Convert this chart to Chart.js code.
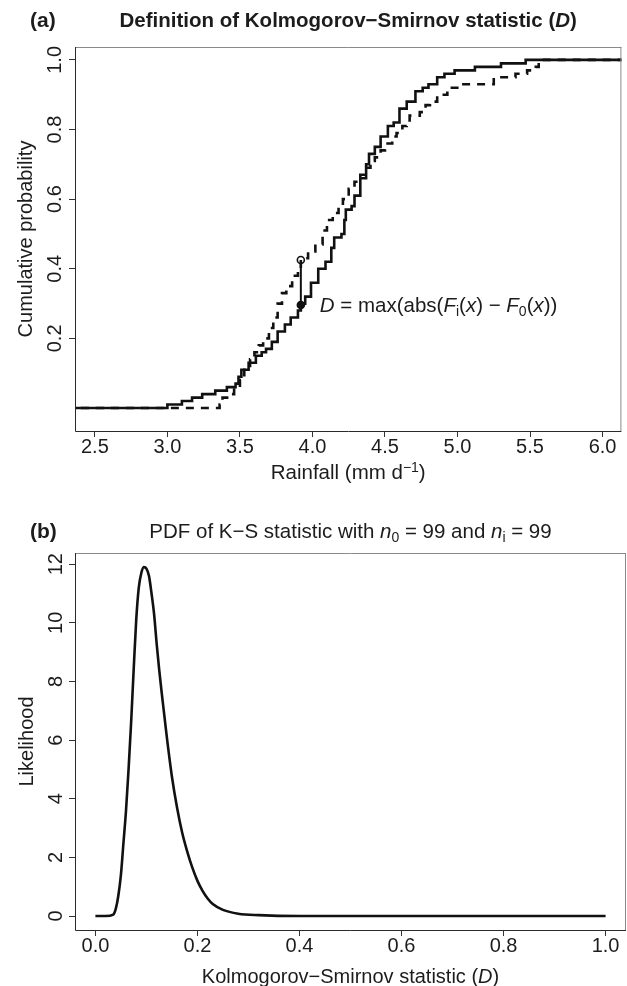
<!DOCTYPE html>
<html>
<head>
<meta charset="utf-8">
<script src="https://cdn.jsdelivr.net/npm/chart.js@4.4.0/dist/chart.umd.min.js"></script>
<style>
body { margin: 0; background: #fff; }
.panel { position: absolute; left: 0; width: 627px; height: 493px; }
</style>
</head>
<body>
<div class="panel" style="top:0"><canvas id="ecdfChart" width="627" height="493"></canvas></div>
<div class="panel" style="top:493px"><canvas id="pdfChart" width="627" height="493"></canvas></div>
<script>
// ===============================
// Data
// ===============================

// (a) empirical CDFs of rainfall (mm/d)
const solidX = [2.30, 3.00, 3.10, 3.17, 3.24, 3.33, 3.41, 3.47, 3.49, 3.51, 3.56, 3.61, 3.65, 3.68, 3.72, 3.76, 3.81, 3.85, 3.90, 3.92,
                3.95, 3.99, 4.04, 4.09, 4.13, 4.15, 4.20, 4.22, 4.23, 4.27, 4.29, 4.33, 4.37, 4.39, 4.43, 4.47, 4.52, 4.56, 4.60, 4.65,
                4.71, 4.76, 4.80, 4.86, 4.91, 4.98, 5.12, 5.30, 5.47, 6.20];
const solidY = [0, 0.01, 0.02, 0.03, 0.04, 0.05, 0.06, 0.07, 0.09, 0.11, 0.13, 0.15, 0.16, 0.17, 0.19, 0.22, 0.24, 0.26, 0.28, 0.30,
                0.32, 0.36, 0.40, 0.42, 0.46, 0.49, 0.50, 0.54, 0.57, 0.58, 0.61, 0.66, 0.70, 0.73, 0.75, 0.78, 0.81, 0.82, 0.86, 0.88,
                0.91, 0.92, 0.93, 0.95, 0.96, 0.97, 0.98, 0.99, 1.0, 1.0];

const dashX = [2.30, 3.36, 3.38, 3.43, 3.46, 3.50, 3.53, 3.57, 3.60, 3.63, 3.66, 3.70, 3.73, 3.76, 3.79, 3.82, 3.86, 3.90, 3.92, 3.97,
               4.02, 4.07, 4.10, 4.14, 4.18, 4.21, 4.25, 4.29, 4.33, 4.36, 4.40, 4.43, 4.47, 4.50, 4.55, 4.58, 4.62, 4.65, 4.67, 4.74,
               4.78, 4.81, 4.86, 4.93, 5.02, 5.25, 5.40, 5.48, 5.54, 5.56, 6.20];
const dashY = [0, 0.01, 0.03, 0.04, 0.06, 0.08, 0.11, 0.14, 0.16, 0.18, 0.20, 0.23, 0.26, 0.30, 0.33, 0.35, 0.38, 0.40, 0.43, 0.45,
               0.47, 0.51, 0.54, 0.56, 0.58, 0.60, 0.63, 0.65, 0.67, 0.69, 0.71, 0.72, 0.74, 0.76, 0.78, 0.79, 0.81, 0.82, 0.84, 0.85,
               0.87, 0.88, 0.90, 0.92, 0.93, 0.95, 0.96, 0.97, 0.98, 1.0, 1.0];

// the D statistic marker
const dStatX = 3.92;
const dLow = 0.296;
const dHigh = 0.425;

const rainTicks = [2.5, 3.0, 3.5, 4.0, 4.5, 5.0, 5.5, 6.0];
const probTicks = [0.2, 0.4, 0.6, 0.8, 1.0];

// (b) PDF of the K-S statistic
const ksX = [0, 0.02, 0.035, 0.04, 0.045, 0.05, 0.055, 0.06, 0.065, 0.07, 0.075, 0.08, 0.085, 0.09, 0.095, 0.10, 0.105, 0.11,
             0.115, 0.12, 0.125, 0.13, 0.14, 0.15, 0.16, 0.17, 0.18, 0.19, 0.20, 0.21, 0.22, 0.23, 0.25, 0.28, 0.32, 0.40, 0.60, 0.80, 1.0];
const ksPdf = [0, 0, 0.05, 0.25, 0.7, 1.4, 2.5, 3.6, 5.0, 6.6, 8.4, 10.1, 11.2, 11.7, 11.9, 11.85, 11.6, 11.0,
               10.3, 9.3, 8.4, 7.6, 6.1, 4.75, 3.7, 2.85, 2.2, 1.65, 1.2, 0.86, 0.6, 0.41, 0.21, 0.08, 0.03, 0, 0, 0, 0];

const ksTicks = [0, 0.2, 0.4, 0.6, 0.8, 1.0];
const likeTicks = [0, 2, 4, 6, 8, 10, 12];

// ===============================
// Helpers
// ===============================

const FAM = '"Liberation Sans", Arial, Helvetica, sans-serif';
const INK = "#1c1c1c";
const LINE = "#111";

function font(size, style) {
    return (style || "") + " " + size + "px " + FAM;
}

function toPoints(xs, ys) {
    return xs.map((x, i) => ({ x: x, y: ys[i] }));
}

// draws a row of text pieces [text, font, dy]
function richText(ctx, parts, x, y, align) {
    let w = 0;
    parts.forEach(p => { ctx.font = p[1]; w += ctx.measureText(p[0]).width; });
    let cx = align === "center" ? x - w / 2 : x;
    ctx.textAlign = "left";
    ctx.textBaseline = "alphabetic";
    ctx.fillStyle = INK;
    parts.forEach(p => {
        ctx.font = p[1];
        ctx.fillText(p[0], cx, y + (p[2] || 0));
        cx += ctx.measureText(p[0]).width;
    });
}

function drawBox(ctx, a) {
    ctx.save();
    ctx.lineWidth = 1;
    ctx.strokeStyle = "#8a8a8a";
    ctx.beginPath();
    ctx.moveTo(a.left, a.top + 0.5);
    ctx.lineTo(a.right, a.top + 0.5);
    ctx.moveTo(a.right - 0.5, a.top);
    ctx.lineTo(a.right - 0.5, a.bottom);
    ctx.stroke();
    ctx.strokeStyle = "#2a2a2a";
    ctx.beginPath();
    ctx.moveTo(a.left + 0.5, a.top);
    ctx.lineTo(a.left + 0.5, a.bottom + 0.5);
    ctx.lineTo(a.right, a.bottom + 0.5);
    ctx.stroke();
    ctx.restore();
}

function rotatedYTicks(ctx, scale, ticks, x) {
    ctx.save();
    ctx.fillStyle = INK;
    ctx.font = font(20);
    ctx.textAlign = "center";
    ctx.textBaseline = "middle";
    ticks.forEach(v => {
        const py = scale.getPixelForValue(v);
        ctx.save();
        ctx.translate(x, py);
        ctx.rotate(-Math.PI / 2);
        ctx.fillText(String(Number.isInteger(v) && scale.max > 2 ? v : v.toFixed(1)), 0, 0);
        ctx.restore();
    });
    ctx.restore();
}

function rotatedTitle(ctx, text, x, y) {
    ctx.save();
    ctx.translate(x, y);
    ctx.rotate(-Math.PI / 2);
    ctx.fillStyle = INK;
    ctx.font = font(20);
    ctx.textAlign = "center";
    ctx.textBaseline = "middle";
    ctx.fillText(text, 0, 0);
    ctx.restore();
}

function axisX(min, max, ticks, height) {
    return {
        type: "linear",
        min: min,
        max: max,
        afterBuildTicks: s => { s.ticks = ticks.map(v => ({ value: v })); },
        afterFit: s => { s.height = height; },
        grid: { drawOnChartArea: false, drawTicks: true, tickLength: 6, color: "#333" },
        border: { display: false },
        ticks: {
            color: INK,
            font: { family: FAM, size: 20 },
            padding: -2,
            maxRotation: 0,
            autoSkip: false,
            callback: v => v.toFixed(1)
        }
    };
}

function axisY(min, max, ticks) {
    return {
        type: "linear",
        min: min,
        max: max,
        afterBuildTicks: s => { s.ticks = ticks.map(v => ({ value: v })); },
        afterFit: s => { s.width = 75; },
        grid: { drawOnChartArea: false, drawTicks: true, tickLength: 6, color: "#333" },
        border: { display: false },
        ticks: { display: false }
    };
}

const baseOptions = {
    responsive: false,
    animation: false,
    events: [],
    plugins: { legend: { display: false }, tooltip: { enabled: false } }
};

// ===============================
// (a) Kolmogorov-Smirnov definition
// ===============================

const ecdfDecor = {
    id: "ecdfDecor",
    afterDraw(chart) {
        const ctx = chart.ctx;
        const a = chart.chartArea;
        const cx = (a.left + a.right) / 2;
        drawBox(ctx, a);
        rotatedYTicks(ctx, chart.scales.y, probTicks, 55);
        rotatedTitle(ctx, "Cumulative probability", 26, (a.top + a.bottom) / 2);

        richText(ctx, [["(a)", font(21, "bold")]], 30, 27, "left");
        richText(ctx, [
            ["Definition of Kolmogorov\u2212Smirnov statistic (", font(20.5, "bold")],
            ["D", font(20.5, "italic bold")],
            [")", font(20.5, "bold")]
        ], cx, 27, "center");

        richText(ctx, [
            ["Rainfall (mm d", font(20.5)],
            ["\u22121", font(14), -7],
            [")", font(20.5)]
        ], cx, 479, "center");

        const px = chart.scales.x.getPixelForValue(dStatX);
        const py = chart.scales.y.getPixelForValue(dLow);
        richText(ctx, [
            ["D", font(20.5, "italic")],
            [" = max(abs(", font(20.5)],
            ["F", font(20.5, "italic")],
            ["i", font(14), 4],
            ["(", font(20.5)],
            ["x", font(20.5, "italic")],
            [") \u2212 ", font(20.5)],
            ["F", font(20.5, "italic")],
            ["0", font(14), 4],
            ["(", font(20.5)],
            ["x", font(20.5, "italic")],
            ["))", font(20.5)]
        ], px + 19, py + 7, "left");
    }
};

new Chart(document.getElementById("ecdfChart"), {
    type: "scatter",
    data: {
        datasets: [
            {
                label: "F0",
                data: toPoints(dashX, dashY),
                showLine: true,
                stepped: true,
                borderColor: LINE,
                borderWidth: 2.6,
                borderDash: [8, 7],
                pointRadius: 0
            },
            {
                label: "Fi",
                data: toPoints(solidX, solidY),
                showLine: true,
                stepped: true,
                borderColor: LINE,
                borderWidth: 2.6,
                pointRadius: 0
            },
            {
                label: "D",
                data: [{ x: dStatX, y: dLow }, { x: dStatX, y: dHigh }],
                showLine: true,
                borderColor: LINE,
                borderWidth: 2,
                pointRadius: 3.5,
                pointBorderWidth: 1.6,
                pointBorderColor: LINE,
                pointBackgroundColor: [LINE, "#fff"]
            }
        ]
    },
    options: Object.assign({}, baseOptions, {
        layout: { padding: { top: 47, right: 1, left: 0, bottom: 0 } },
        scales: {
            x: axisX(2.363, 6.13, rainTicks, 62),
            y: axisY(-0.066, 1.037, probTicks)
        }
    }),
    plugins: [ecdfDecor]
});

// ===============================
// (b) PDF of the K-S statistic
// ===============================

const pdfDecor = {
    id: "pdfDecor",
    afterDraw(chart) {
        const ctx = chart.ctx;
        const a = chart.chartArea;
        const cx = (a.left + a.right) / 2;
        drawBox(ctx, a);
        rotatedYTicks(ctx, chart.scales.y, likeTicks, 56);
        rotatedTitle(ctx, "Likelihood", 27, (a.top + a.bottom) / 2);

        richText(ctx, [["(b)", font(21, "bold")]], 30, 45, "left");
        richText(ctx, [
            ["PDF of K\u2212S statistic with ", font(20.5)],
            ["n", font(20.5, "italic")],
            ["0", font(14), 4],
            [" = 99 and ", font(20.5)],
            ["n", font(20.5, "italic")],
            ["i", font(14), 4],
            [" = 99", font(20.5)]
        ], cx, 45, "center");

        richText(ctx, [
            ["Kolmogorov\u2212Smirnov statistic (", font(20)],
            ["D", font(20, "italic")],
            [")", font(20)]
        ], cx, 490, "center");
    }
};

new Chart(document.getElementById("pdfChart"), {
    type: "scatter",
    data: {
        datasets: [{
            label: "PDF",
            data: toPoints(ksX, ksPdf),
            showLine: true,
            cubicInterpolationMode: "monotone",
            borderColor: LINE,
            borderWidth: 2.6,
            pointRadius: 0
        }]
    },
    options: Object.assign({}, baseOptions, {
        layout: { padding: { top: 60, right: 1, left: 0, bottom: 0 } },
        scales: {
            x: axisX(-0.04, 1.04, ksTicks, 56),
            y: axisY(-0.476, 12.38, likeTicks)
        }
    }),
    plugins: [pdfDecor]
});
</script>
</body>
</html>
